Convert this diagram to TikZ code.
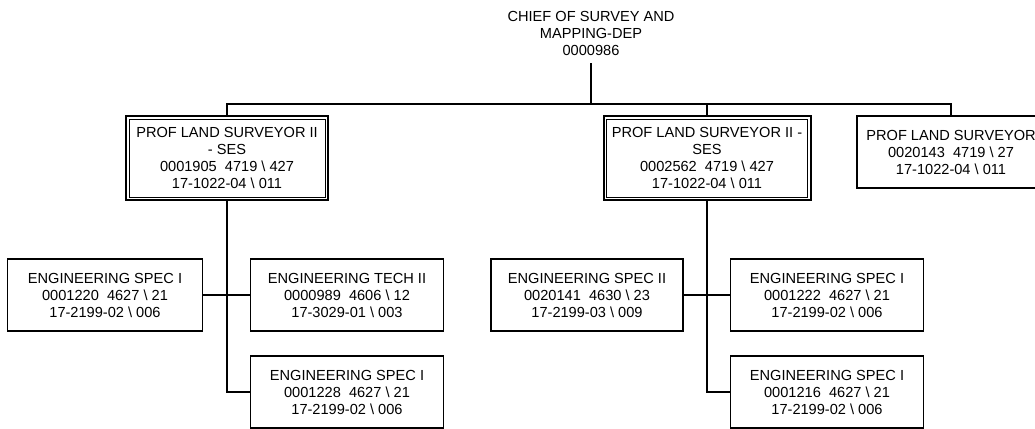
\documentclass[tikz,border=0pt]{standalone}
\usepackage{fontspec}
\setmainfont{Liberation Sans}
\usetikzlibrary{calc}
\newcommand{\bs}{\textbackslash{}}
\begin{document}
\begin{tikzpicture}[x=1pt,y=-1pt,
  every node/.style={font=\fontsize{14.6}{17}\selectfont, align=center, inner sep=0pt},
  pbox/.style={draw, line width=1.5pt, minimum height=72pt},
  dbox/.style={draw, line width=2pt, minimum height=84pt},
  conn/.style={line width=1.6pt}]
\useasboundingbox (0,0) rectangle (1035,428);
\clip (0,0) rectangle (1035,428);

\node (chief) at (591,33) {CHIEF OF SURVEY AND\\MAPPING-DEP\\0000986};

\node[dbox, minimum width=202pt] (b1) at (227,158) {PROF LAND SURVEYOR II\\- SES\\0001905\ \ 4719 \bs\ 427\\17-1022-04 \bs\ 011};
\node[dbox, minimum width=207pt] (b2) at (707,158) {PROF LAND SURVEYOR II -\\SES\\0002562\ \ 4719 \bs\ 427\\17-1022-04 \bs\ 011};
\node[pbox, minimum width=188pt] (b3) at (951,152) {PROF LAND SURVEYOR\\0020143\ \ 4719 \bs\ 27\\17-1022-04 \bs\ 011};

\draw[line width=0.8pt] ($(b1.north west)+(4pt,-4pt)$) rectangle ($(b1.south east)+(-4pt,4pt)$);
\draw[line width=0.8pt] ($(b2.north west)+(4pt,-4pt)$) rectangle ($(b2.south east)+(-4pt,4pt)$);

\node[pbox, minimum width=195pt] (l1) at (105,295) {ENGINEERING SPEC I\\0001220\ \ 4627 \bs\ 21\\17-2199-02 \bs\ 006};
\node[pbox, minimum width=193pt] (l2) at (347,295) {ENGINEERING TECH II\\0000989\ \ 4606 \bs\ 12\\17-3029-01 \bs\ 003};
\node[pbox, minimum width=193pt] (l3) at (347,392) {ENGINEERING SPEC I\\0001228\ \ 4627 \bs\ 21\\17-2199-02 \bs\ 006};

\node[pbox, minimum width=192pt] (r1) at (587,295) {ENGINEERING SPEC II\\0020141\ \ 4630 \bs\ 23\\17-2199-03 \bs\ 009};
\node[pbox, minimum width=193pt] (r2) at (827,295) {ENGINEERING SPEC I\\0001222\ \ 4627 \bs\ 21\\17-2199-02 \bs\ 006};
\node[pbox, minimum width=193pt] (r3) at (827,392) {ENGINEERING SPEC I\\0001216\ \ 4627 \bs\ 21\\17-2199-02 \bs\ 006};

\coordinate (bar) at (591,104);
\draw[conn] ([yshift=-8pt]chief.south) -- (bar);
\draw[conn] (b1.north) |- (bar) -| (b3.north);
\draw[conn] (b2.north) -- (b2.north |- bar);

\draw[conn] (b1.south) |- (l3.west);
\draw[conn] (l1.east) -- (l2.west);
\draw[conn] (b2.south) |- (r3.west);
\draw[conn] (r1.east) -- (r2.west);
\end{tikzpicture}
\end{document}
